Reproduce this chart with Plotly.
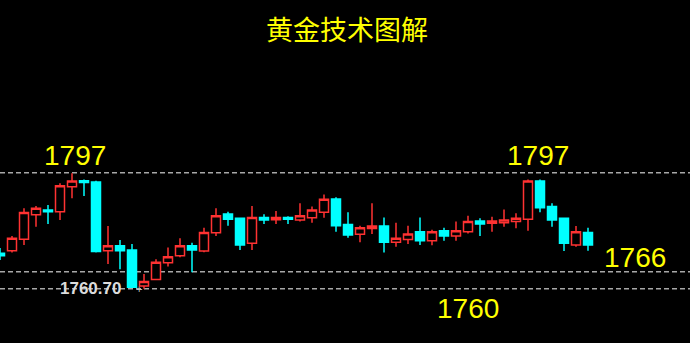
import plotly.graph_objects as go

# ---- data ----
opens = [1771.8, 1772.6, 1776.2, 1783.8, 1785.3, 1784.8, 1792.6, 1794.5, 1794.1, 1772.6,
         1774.1, 1772.8, 1761.5, 1763.6, 1768.8, 1771.0, 1774.1, 1772.5, 1778.2, 1784.1,
         1782.7, 1774.9, 1783.0, 1782.3, 1783.0, 1782.2, 1782.9, 1784.6, 1788.8, 1780.8,
         1777.7, 1779.5, 1780.3, 1775.2, 1776.1, 1778.5, 1775.7, 1778.8, 1777.2, 1778.5,
         1781.9, 1781.2, 1781.3, 1781.7, 1782.4, 1794.4, 1786.4, 1782.7, 1774.4, 1778.3]
highs = [1773.4, 1777.2, 1785.9, 1786.6, 1786.9, 1793.7, 1796.8, 1794.9, 1794.5, 1780.3,
         1775.9, 1774.7, 1765.3, 1769.9, 1773.6, 1776.5, 1775.1, 1779.8, 1785.9, 1784.8,
         1782.9, 1786.6, 1784.0, 1785.0, 1783.4, 1787.4, 1786.4, 1790.2, 1789.3, 1784.6,
         1780.4, 1787.4, 1783.0, 1781.3, 1780.4, 1783.0, 1779.1, 1779.8, 1781.7, 1783.5,
         1782.7, 1783.2, 1785.5, 1784.3, 1794.9, 1794.9, 1787.4, 1782.9, 1780.3, 1779.8]
lows = [1769.7, 1772.0, 1774.4, 1780.1, 1780.9, 1782.2, 1789.0, 1789.7, 1772.0, 1768.4,
        1766.8, 1761.0, 1760.7, 1763.4, 1767.6, 1770.5, 1765.8, 1772.1, 1777.2, 1780.4,
        1772.8, 1772.8, 1780.9, 1780.9, 1780.9, 1781.7, 1781.3, 1782.9, 1778.5, 1776.6,
        1775.2, 1777.8, 1772.0, 1773.8, 1774.7, 1774.4, 1774.3, 1775.7, 1775.7, 1778.0,
        1777.2, 1778.5, 1780.1, 1779.6, 1778.8, 1784.6, 1780.1, 1772.5, 1773.8, 1772.6]
closes = [1771.0, 1776.5, 1784.5, 1785.9, 1784.8, 1792.9, 1794.4, 1793.9, 1772.3, 1774.1,
          1772.6, 1761.1, 1762.9, 1769.0, 1770.7, 1774.1, 1772.8, 1778.3, 1783.5, 1782.4,
          1774.4, 1783.0, 1782.2, 1783.0, 1782.4, 1783.5, 1785.3, 1788.7, 1780.4, 1777.5,
          1779.8, 1780.3, 1775.2, 1776.5, 1777.8, 1775.7, 1778.5, 1777.2, 1778.8, 1781.7,
          1780.9, 1781.9, 1782.2, 1782.7, 1794.4, 1786.0, 1782.2, 1774.9, 1778.5, 1774.4]
bars = list(range(len(opens)))

levels = [1797, 1766, 1760.7]
level_labels = ["1797", "1797", "1766", "1760"]
label_x = [6.25, 44.8, 52.9, 39.0]
label_y = [1802.5, 1802.5, 1770.6, 1754.5]
low_mark = "1760.70"
title_text = "黄金技术图解"

RED = "#ff3232"
CYAN = "#00ffff"
YELLOW = "#ffff00"

fig = go.Figure()
fig.add_trace(go.Candlestick(
    x=bars, open=opens, high=highs, low=lows, close=closes,
    increasing=dict(line=dict(color=RED, width=1.5), fillcolor="#000000"),
    decreasing=dict(line=dict(color=CYAN, width=1.5), fillcolor=CYAN),
    whiskerwidth=0, hoverinfo="skip", showlegend=False,
))

for lv in levels:
    fig.add_shape(type="line", xref="paper", x0=0, x1=1, yref="y", y0=lv, y1=lv,
                  line=dict(color="#a8a8a8", width=1.5, dash="5px,3px"), layer="below")

for t, x, y in zip(level_labels, label_x, label_y):
    fig.add_annotation(x=x, y=y, xref="x", yref="y", text=t, showarrow=False,
                       font=dict(family="Liberation Sans, Arial", size=28, color=YELLOW),
                       xanchor="center", yanchor="middle")

fig.add_annotation(x=7.5, y=lows[12], xref="x", yref="y", text="<b>" + low_mark + "</b>",
                   showarrow=False, font=dict(family="Liberation Sans, Arial", size=17, color="#dcdcdc"),
                   xanchor="center", yanchor="middle")
fig.add_annotation(x=11.6, y=lows[12], xref="x", yref="y", text="+",
                   showarrow=False, font=dict(family="Liberation Sans, Arial", size=11, color="#c0c0c0"),
                   xanchor="center", yanchor="middle")

fig.add_annotation(x=0.503, y=1 - 29 / 343, xref="paper", yref="paper", text=title_text,
                   showarrow=False, font=dict(family="Noto Sans CJK SC", size=27, color=YELLOW),
                   xanchor="center", yanchor="middle")

fig.update_layout(
    width=690, height=343, margin=dict(l=0, r=0, t=0, b=0),
    paper_bgcolor="#000000", plot_bgcolor="#000000",
    boxgap=0.25, boxgroupgap=0,
    xaxis=dict(range=[0, 57.5], visible=False, rangeslider=dict(visible=False), fixedrange=True),
    yaxis=dict(range=[1743.68, 1851.07], visible=False, fixedrange=True),
    showlegend=False,
)

fig.write_html("out.html", config={"displayModeBar": False})
